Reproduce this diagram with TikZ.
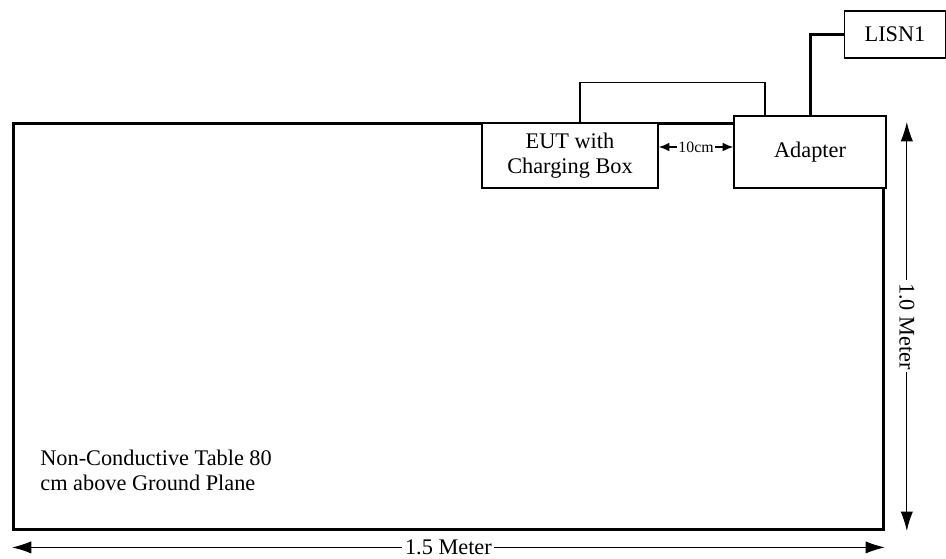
\documentclass[tikz,border=0pt]{standalone}
\usepackage{fontspec}
\setmainfont{Liberation Serif}
\usetikzlibrary{arrows.meta}

\newcommand{\tabfont}{\fontsize{12.7}{14.6}\selectfont}
\newcommand{\gapfont}{\fontsize{9}{10}\selectfont}

\begin{document}
\begin{tikzpicture}
    [x=0.02cm, y=-0.02cm
    ,every node/.style={font=\tabfont}
    ,box/.style={draw, line width=0.85pt, fill=white, align=center, inner sep=0pt}
    ,table/.style={draw, line width=1.7pt, inner sep=0pt}
    ,cable/.style={line width=1.7pt}
    ,dim/.style={<->, >={Latex[length=11pt,width=7pt]}, line width=0.6pt}
    ,gap/.style={<->, >={Latex[length=6pt,width=5pt]}, line width=0.9pt}
    ]

    \useasboundingbox (0,0) rectangle (946,558);

    \node[table, anchor=north west, minimum width=17.4cm, minimum height=8.12cm] (tbl) at (12,122) {};

    \node[box, minimum width=3.52cm, minimum height=1.3cm] (eut) at (570,155.5) {EUT with\\Charging Box};
    \node[box, minimum width=3.04cm, minimum height=1.44cm] (adapter) at (810,152) {Adapter};
    \node[box, minimum width=2.02cm, minimum height=0.94cm] (lisn) at (895,34.5) {LISN1};

    \node[anchor=west, align=left, inner sep=0pt] (note) at (40,470.5) {Non-Conductive Table 80\\cm above Ground Plane};

    \draw [cable] (lisn.west) -| (adapter.north);
    \draw [line width=0.8pt] ([xshift=0.2cm]eut.north) -- ++(0,0.8cm) -| ([xshift=-0.9cm]adapter.north);

    \coordinate (gapy) at (0,147);
    \draw [gap] (eut.east |- gapy) -- node[fill=white, inner sep=1pt, font=\gapfont] (ten) {10cm} (adapter.west |- gapy);

    \draw [dim] ([xshift=0.44cm]tbl.north east) -- node[fill=white, inner xsep=1.5pt, inner ysep=0pt, rotate=-90] (height) {1.0 Meter} ([xshift=0.44cm]tbl.south east);
    \draw [dim] ([yshift=-0.33cm]tbl.south west) -- node[fill=white, inner xsep=1.5pt, inner ysep=0pt] (width) {1.5 Meter} ([yshift=-0.33cm]tbl.south east);

  \end{tikzpicture}
\end{document}
